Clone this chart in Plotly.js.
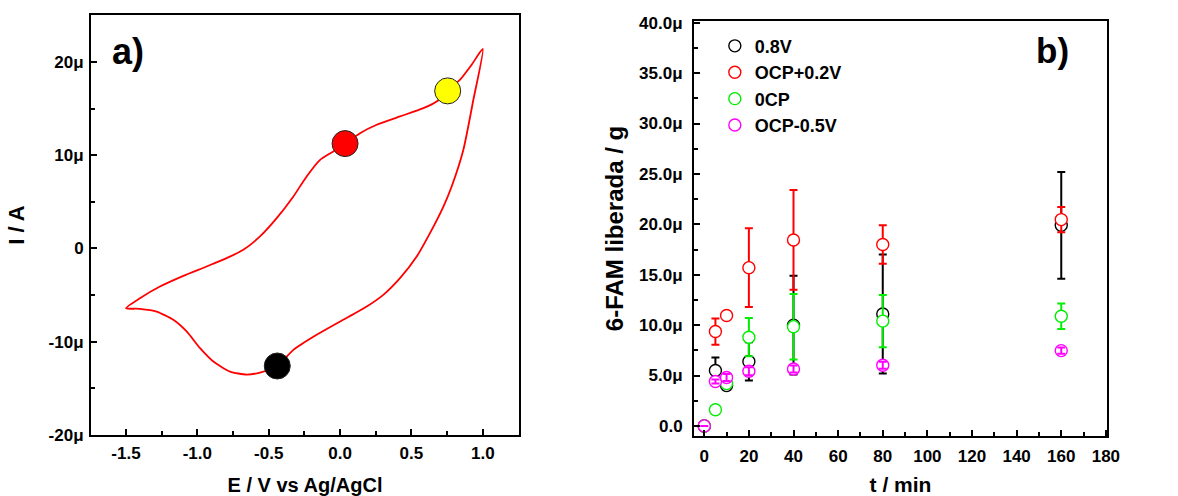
<!DOCTYPE html>
<html>
<head>
<meta charset="utf-8">
<script src="https://cdn.plot.ly/plotly-3.0.1.min.js"></script>
<style>
  html, body { margin: 0; padding: 0; background: #fff; }
  #chart { width: 1178px; height: 496px; }
</style>
</head>
<body>
<div id="chart"></div>
<script>
// ---------- Panel a) cyclic voltammogram ----------
const cvE = [1.0, 0.934, 0.864, 0.782, 0.724, 0.630, 0.537, 0.42, 0.303, 0.187, 0.0, -0.164, -0.327, -0.44, -0.561, -0.654, -0.771, -0.888, -0.981, -1.075, -1.168, -1.285, -1.402, -1.5,
             -1.402, -1.262, -1.098, -0.935, -0.795, -0.678, -0.561, -0.444, -0.327, -0.234, -0.14, -0.047, 0.035, 0.14, 0.257, 0.42, 0.584, 0.677, 0.754, 0.841, 0.922, 1.0];
const cvI = [21.4, 15.95, 10.59, 6.65, 4.5, 1.65, -0.86, -3.18, -4.97, -6.22, -7.83, -9.26, -10.87, -12.59, -13.3, -13.52, -13.2, -12.12, -10.69, -8.9, -7.65, -6.76, -6.47, -6.4,
             -5.33, -4.08, -2.93, -1.93, -1.04, -0.14, 1.29, 3.25, 5.58, 7.73, 9.51, 10.41, 11.23, 12.37, 13.27, 14.16, 15.06, 15.77, 16.92, 18.1, 19.71, 21.4];
const dotE = [-0.44, 0.035, 0.754];
const dotI = [-12.6, 11.25, 16.9];
const dotColors = ['#000000', '#ff0000', '#ffff00'];

const cvXTicks = [-1.5, -1.0, -0.5, 0.0, 0.5, 1.0];
const cvXTickText = ['-1.5', '-1.0', '-0.5', '0.0', '0.5', '1.0'];
const cvYTicks = [-20, -10, 0, 10, 20];
const cvYTickText = ['-20\u03bc', '-10\u03bc', '0', '10\u03bc', '20\u03bc'];

// ---------- Panel b) 6-FAM release ----------
const tMin = [0, 5, 10, 20, 40, 80, 160];
const series = ['0.8V', 'OCP+0.2V', '0CP', 'OCP-0.5V'];
const v08 = [0, 5.5, 4.0, 6.4, 10.0, 11.1, 19.9];
const v08Err = [0, 1.3, 0.4, 1.9, 4.9, 5.9, 5.3];
const ocpP02 = [0, 9.36, 10.95, 15.7, 18.45, 18.0, 20.47];
const ocpP02Err = [0, 1.3, 0.25, 3.9, 4.95, 1.9, 1.25];
const ocp = [0, 1.6, 4.2, 8.8, 9.85, 10.4, 10.88];
const ocpErr = [0, 0.3, 0.3, 1.9, 3.25, 2.6, 1.27];
const ocpM05 = [0, 4.4, 4.8, 5.42, 5.65, 6.02, 7.47];
const ocpM05Err = [0, 0.2, 0.35, 0.4, 0.35, 0.35, 0.3];
const seriesColors = ['#000000', '#ff0000', '#00ee00', '#ff00ff'];

const relXTicks = [0, 20, 40, 60, 80, 100, 120, 140, 160, 180];
const relYTicks = [0, 5, 10, 15, 20, 25, 30, 35, 40];
const relYTickText = ['0.0', '5.0\u03bc', '10.0\u03bc', '15.0\u03bc', '20.0\u03bc', '25.0\u03bc', '30.0\u03bc', '35.0\u03bc', '40.0\u03bc'];

// ---------- build ----------
const FONT = 'Liberation Sans, Arial, Helvetica, sans-serif';
const traces = [];

traces.push({
  x: cvE, y: cvI, xaxis: 'x', yaxis: 'y', type: 'scatter', mode: 'lines',
  line: { color: '#ff0000', width: 1.8, shape: 'spline', smoothing: 0.6 },
  showlegend: false, hoverinfo: 'skip'
});
traces.push({
  x: dotE, y: dotI, xaxis: 'x', yaxis: 'y', type: 'scatter', mode: 'markers',
  marker: { size: 26, color: dotColors, line: { color: '#222', width: 1 } },
  showlegend: false
});

const yVals = [v08, ocpP02, ocp, ocpM05];
const yErrs = [v08Err, ocpP02Err, ocpErr, ocpM05Err];
for (let i = 0; i < series.length; i++) {
  traces.push({
    x: tMin, y: yVals[i], xaxis: 'x2', yaxis: 'y2', type: 'scatter', mode: 'markers',
    name: series[i],
    marker: { symbol: 'circle', size: 12, color: '#ffffff', line: { color: seriesColors[i], width: 1.4 } },
    error_y: { type: 'data', array: yErrs[i], visible: true, color: seriesColors[i], thickness: 2, width: 4 }
  });
}
// magenta error bars drawn over their own open markers
traces.push({
  x: tMin, y: ocpM05, xaxis: 'x2', yaxis: 'y2', type: 'scatter', mode: 'markers',
  marker: { size: 12, color: 'rgba(0,0,0,0)' }, showlegend: false, hoverinfo: 'skip',
  error_y: { type: 'data', array: ocpM05Err, visible: true, color: seriesColors[3], thickness: 2, width: 4 }
});

const axisCommon = {
  showgrid: false, zeroline: false, showline: true, linecolor: '#000', linewidth: 2,
  mirror: true, ticks: 'inside', ticklen: 6, tickwidth: 2, tickcolor: '#000',
  tickfont: { family: FONT, size: 17, color: '#000', weight: 'bold' }
};

const layout = {
  width: 1178, height: 496,
  margin: { l: 91, r: 71, t: 15, b: 60, pad: 0 },
  paper_bgcolor: '#fff', plot_bgcolor: '#fff',
  font: { family: FONT, color: '#000' },
  xaxis: Object.assign({}, axisCommon, {
    domain: [0, 0.4213], anchor: 'y', range: [-1.745, 1.254],
    tickmode: 'array', tickvals: cvXTicks, ticktext: cvXTickText,
    ticklabelstandoff: 2,
    minor: { dtick: 0.25, tick0: -1.5, ticks: 'inside', ticklen: 4, tickwidth: 2, tickcolor: '#000' },
    title: { text: 'E / V vs Ag/AgCl', font: { family: FONT, size: 20, weight: 'bold', color: '#000' }, standoff: 18 }
  }),
  yaxis: Object.assign({}, axisCommon, {
    domain: [0.0024, 1], anchor: 'x', range: [-20, 25.04],
    tickmode: 'array', tickvals: cvYTicks, ticktext: cvYTickText,
    ticklabelstandoff: 2,
    minor: { dtick: 5, tick0: 0, ticks: 'inside', ticklen: 4, tickwidth: 2, tickcolor: '#000' },
    title: { text: 'I / A', font: { family: FONT, size: 22, weight: 'bold', color: '#000' }, standoff: 18 }
  }),
  xaxis2: Object.assign({}, axisCommon, {
    domain: [0.5935, 1], anchor: 'y2', range: [-4.6, 180.5],
    tickmode: 'array', tickvals: relXTicks,
    ticklabelstandoff: 4,
    minor: { dtick: 10, tick0: 0, ticks: 'inside', ticklen: 4, tickwidth: 2, tickcolor: '#000' },
    title: { text: 't / min', font: { family: FONT, size: 21, weight: 'bold', color: '#000' }, standoff: 18 }
  }),
  yaxis2: Object.assign({}, axisCommon, {
    domain: [0, 0.9857], anchor: 'x2', range: [-1.0, 40.17],
    tickmode: 'array', tickvals: relYTicks, ticktext: relYTickText,
    ticklabelstandoff: 6,
    minor: { dtick: 2.5, tick0: 0, ticks: 'inside', ticklen: 4, tickwidth: 2, tickcolor: '#000' },
    title: { text: '6-FAM liberada / g', font: { family: FONT, size: 24, weight: 'bold', color: '#000' }, standoff: 9 }
  }),
  legend: {
    x: 0.614, y: 0.97, xanchor: 'left', yanchor: 'top', tracegroupgap: 0,
    bgcolor: 'rgba(0,0,0,0)', borderwidth: 0,
    font: { family: FONT, size: 18, weight: 'bold', color: '#000' },
    itemclick: false
  },
  annotations: [
    { xref: 'x domain', yref: 'y domain', x: 0.0864, y: 0.912, xanchor: 'center', yanchor: 'middle',
      text: 'a)', showarrow: false,
      font: { family: FONT, size: 36, weight: 'bold', color: '#000' } },
    { xref: 'x2 domain', yref: 'y2 domain', x: 0.867, y: 0.930, xanchor: 'center', yanchor: 'middle',
      text: 'b)', showarrow: false,
      font: { family: FONT, size: 35, weight: 'bold', color: '#000' } }
  ]
};

Plotly.newPlot('chart', traces, layout, { displayModeBar: false, staticPlot: true });
</script>
</body>
</html>
